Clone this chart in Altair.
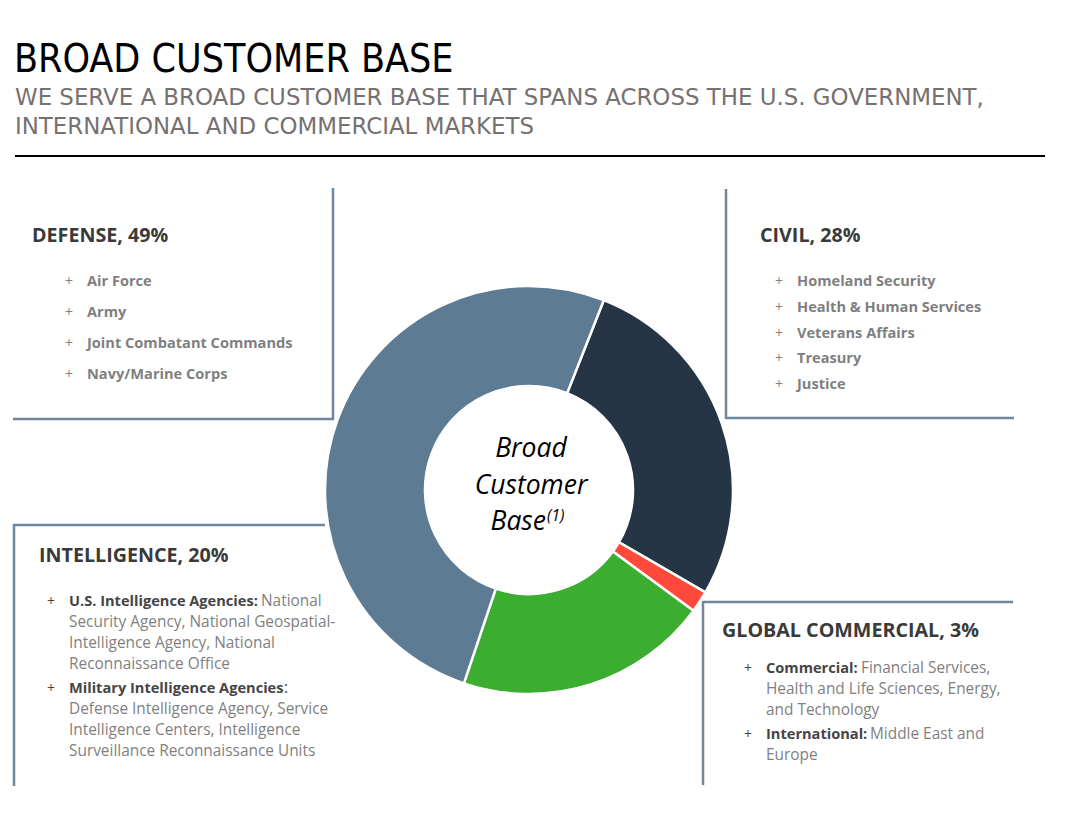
import math
import altair as alt
import pandas as pd

# ---------------- data ----------------
segments = ["Civil", "Global Commercial", "Intelligence", "Defense"]
drawn_share = [27.4, 1.7, 20.1, 50.8]          # share of the ring as drawn
seg_colors = ["#253546", "#FF4A3B", "#3BAD2F", "#5D7B93"]
seg_order = [1, 2, 3, 4]
label_pct = {"Defense": 49, "Civil": 28, "Intelligence": 20, "Global Commercial": 3}

title_text = "BROAD CUSTOMER BASE"
subtitle_lines = ["WE SERVE A BROAD CUSTOMER BASE THAT SPANS ACROSS THE U.S. GOVERNMENT,",
                  "INTERNATIONAL AND COMMERCIAL MARKETS"]
center_lines = ["Broad", "Customer", "Base"]
center_note = "(1)"

defense_items = ["Air Force", "Army", "Joint Combatant Commands", "Navy/Marine Corps"]
civil_items = ["Homeland Security", "Health & Human Services", "Veterans Affairs", "Treasury", "Justice"]
intel_items = [
    ("U.S. Intelligence Agencies:", ["National", "Security Agency, National Geospatial-",
                                     "Intelligence Agency, National", "Reconnaissance Office"]),
    ("Military Intelligence Agencies", [":", "Defense Intelligence Agency, Service",
                                        "Intelligence Centers, Intelligence",
                                        "Surveillance Reconnaissance Units"]),
]
commercial_items = [
    ("Commercial:", ["Financial Services,", "Health and Life Sciences, Energy,", "and Technology"]),
    ("International:", ["Middle East and", "Europe"]),
]

# ---------------- helpers ----------------
M = 8  # page margin
LINE = "#6E879C"
HEAD = "#3A3A3A"
GREY = "#7F7F7F"
DARK = "#454545"
FONT = "Open Sans"
BOLD_SIZE = 14.6
REG_SIZE = 15.4
HEAD_SIZE = 19.7

one = pd.DataFrame({"k": [0]})


def P(v):
    return v - M


def txt(x, y, s, size=15, weight="normal", color=GREY, style="normal", align="left", font=FONT):
    return alt.Chart(one).mark_text(
        text=s, font=font, fontSize=size, fontWeight=weight, fontStyle=style,
        color=color, align=align, baseline="alphabetic"
    ).encode(x=alt.value(P(x)), y=alt.value(P(y)))


def hline(x1, x2, y, color=LINE, w=2.5):
    return alt.Chart(one).mark_rule(color=color, strokeWidth=w).encode(
        x=alt.value(P(x1)), x2=alt.value(P(x2)), y=alt.value(P(y)))


def vline(x, y1, y2, color=LINE, w=2.5):
    return alt.Chart(one).mark_rule(color=color, strokeWidth=w).encode(
        x=alt.value(P(x)), y=alt.value(P(y1)), y2=alt.value(P(y2)))


layers = []

# ---------------- donut ----------------
start = math.radians(21.5)
ring = pd.DataFrame({"segment": segments, "value": drawn_share, "order": seg_order})
donut = alt.Chart(ring).mark_arc(outerRadius=204, innerRadius=104, stroke="white", strokeWidth=2.5).encode(
    theta=alt.Theta("value:Q", stack=True, scale=alt.Scale(range=[start, start + 2 * math.pi])),
    color=alt.Color("segment:N", scale=alt.Scale(domain=segments, range=seg_colors), legend=None),
    order=alt.Order("order:Q"),
    x=alt.value(P(529)), y=alt.value(P(490)),
)
layers.append(donut)

# centre text
for s, yy in zip(center_lines[:2], [457, 494]):
    layers.append(txt(531, yy, s, size=26.5, color="#000000", style="italic", align="center"))
layers.append(txt(546, 530, center_lines[2], size=26.5, color="#000000", style="italic", align="right"))
layers.append(txt(547, 521, center_note, size=15.5, color="#000000", style="italic", align="left"))

# ---------------- header ----------------
layers.append(txt(14, 72, title_text, size=39, color="#000000",
                  font="'Liberation Sans Narrow', 'DejaVu Sans Condensed', 'DejaVu Sans', sans-serif"))
layers.append(txt(15, 105, subtitle_lines[0], size=22.9, color="#767171", font="DejaVu Sans"))
layers.append(txt(15, 134, subtitle_lines[1], size=22.9, color="#767171", font="DejaVu Sans"))
layers.append(hline(15, 1045, 156, color="#000000", w=2))

# ---------------- defense box ----------------
layers.append(vline(333, 188, 420))
layers.append(hline(13, 334, 419))
layers.append(txt(32, 242, f"DEFENSE, {label_pct['Defense']}%", size=HEAD_SIZE, weight="bold", color=HEAD))
for i, s in enumerate(defense_items):
    yy = 286 + 31 * i
    layers.append(txt(69, yy, "+", size=14, color=GREY, align="center"))
    layers.append(txt(87, yy, s, size=BOLD_SIZE, weight="bold", color=GREY))

# ---------------- civil box ----------------
layers.append(vline(726, 189, 419))
layers.append(hline(726, 1014, 418))
layers.append(txt(760, 242, f"CIVIL, {label_pct['Civil']}%", size=HEAD_SIZE, weight="bold", color=HEAD))
for i, s in enumerate(civil_items):
    yy = 286 + 25.8 * i
    layers.append(txt(779, yy, "+", size=14, color=GREY, align="center"))
    layers.append(txt(797, yy, s, size=BOLD_SIZE, weight="bold", color=GREY))

# ---------------- intelligence box ----------------
layers.append(hline(13, 325, 525))
layers.append(vline(14, 524, 786))
layers.append(txt(39, 562, f"INTELLIGENCE, {label_pct['Intelligence']}%", size=HEAD_SIZE, weight="bold", color=HEAD))
intel_starts = [606, 693]
intel_cont_x = [261, 284]
for (bold, rest), y0, cx in zip(intel_items, intel_starts, intel_cont_x):
    layers.append(txt(51, y0, "+", size=14, color=DARK, align="center"))
    layers.append(txt(69, y0, bold, size=BOLD_SIZE, weight="bold", color=DARK))
    layers.append(txt(cx, y0, rest[0], size=REG_SIZE, color=GREY if len(rest[0]) > 1 else DARK))
    for j, s in enumerate(rest[1:]):
        layers.append(txt(69, y0 + 21 * (j + 1), s, size=REG_SIZE, color=GREY))

# ---------------- global commercial box ----------------
layers.append(hline(703, 1013, 602))
layers.append(vline(703, 601, 785))
layers.append(txt(722, 637, f"GLOBAL COMMERCIAL, {label_pct['Global Commercial']}%", size=HEAD_SIZE, weight="bold", color=HEAD))
com_starts = [673, 739]
com_cont_x = [861, 870]
for (bold, rest), y0, cx in zip(commercial_items, com_starts, com_cont_x):
    layers.append(txt(748, y0, "+", size=14, color=DARK, align="center"))
    layers.append(txt(766, y0, bold, size=BOLD_SIZE, weight="bold", color=DARK))
    layers.append(txt(cx, y0, rest[0], size=REG_SIZE, color=GREY))
    for j, s in enumerate(rest[1:]):
        layers.append(txt(766, y0 + 21 * (j + 1), s, size=REG_SIZE, color=GREY))

chart = alt.layer(*layers).properties(
    width=1052, height=800,
    autosize=alt.AutoSizeParams(type="none"),
    padding=0,
).configure_view(stroke=None)

chart.save("out.html", embed_options={"renderer": "svg", "actions": False})
